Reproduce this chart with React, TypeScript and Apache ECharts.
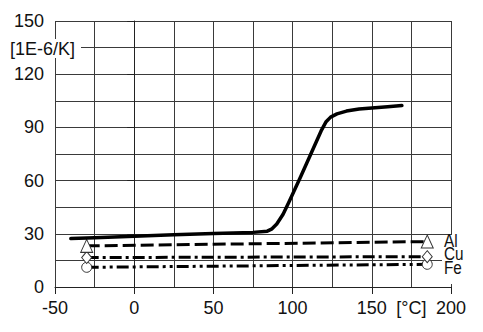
import React, { useEffect, useRef } from "react";
import * as echarts from "echarts";

// Main curve (solid): temperature [°C] vs. expansion coefficient [1E-6/K]
const mainX = [-40, -25, 0, 25, 50, 75, 84, 87, 90, 94, 98, 105, 112, 118, 121, 124, 128, 134, 142, 150, 160, 169];
const mainY = [27.3, 27.8, 28.6, 29.4, 30.2, 30.8, 31.5, 32.8, 35.5, 41, 48.5, 62, 76, 88, 93, 95.8, 97.6, 99.2, 100.4, 101, 101.6, 102.3];

// Reference metals (start and end of line)
const refX = [-30, 185];
const alY = [23.2, 25.6];
const cuY = [16.6, 17.1];
const feY = [11.1, 12.8];

const metalNames = ["Al", "Cu", "Fe"];
const yUnit = "[1E-6/K]";
const xUnit = "[°C]";

const FONT = "'Liberation Sans', Arial, Helvetica, sans-serif";

export default function App() {
  const ref = useRef<HTMLDivElement>(null);
  useEffect(() => {
    if (!ref.current) return;
    const chart = echarts.init(ref.current, null, { renderer: "svg" });
    const pairs = (xs: number[], ys: number[]) => xs.map((x, i) => [x, ys[i]]);
    const gridColor = "#3a3a3a";
    const option: any = {
      animation: false,
      backgroundColor: "#fff",
      grid: { left: 55, right: 32, top: 21, bottom: 45 },
      xAxis: [
        {
          type: "value",
          min: -50,
          max: 200,
          interval: 25,
          position: "bottom",
          axisLine: { show: true, lineStyle: { color: "#222", width: 1 } },
          axisTick: { show: false },
          axisLabel: {
            margin: 12,
            color: "#111",
            fontSize: 18,
            fontFamily: FONT,
            formatter: (v: number) => (v === 175 ? xUnit : v % 50 === 0 ? String(v) : ""),
          },
          splitLine: { show: true, lineStyle: { color: gridColor, width: 1 } },
        },
        {
          type: "value",
          min: -50,
          max: 200,
          interval: 50,
          position: "bottom",
          axisLine: { show: false },
          axisTick: { show: true, length: 7, lineStyle: { color: "#222" } },
          axisLabel: { show: false },
          splitLine: { show: false },
        },
      ],
      yAxis: [
        {
          type: "value",
          min: 0,
          max: 150,
          interval: 15,
          position: "left",
          axisLine: { show: true, lineStyle: { color: "#222", width: 1 } },
          axisTick: { show: false },
          axisLabel: {
            margin: 11,
            color: "#111",
            fontSize: 18,
            fontFamily: FONT,
            formatter: (v: number) => (v % 30 === 0 ? String(v) : ""),
          },
          splitLine: { show: true, lineStyle: { color: gridColor, width: 1 } },
        },
        {
          type: "value",
          min: 0,
          max: 150,
          interval: 30,
          position: "left",
          axisLine: { show: false },
          axisTick: { show: true, length: 7, lineStyle: { color: "#222" } },
          axisLabel: { show: false },
          splitLine: { show: false },
        },
      ],
      series: [
        {
          type: "line",
          data: pairs(mainX, mainY),
          symbol: "none",
          smooth: false,
          lineStyle: { color: "#000", width: 3.5, join: "round", cap: "round" },
          z: 5,
        },
        {
          type: "line",
          name: metalNames[0],
          data: pairs(refX, alY),
          symbol: "triangle",
          symbolSize: [12, 13],
          showAllSymbol: true,
          itemStyle: { color: "#fff", borderColor: "#333", borderWidth: 1 },
          lineStyle: { color: "#000", width: 3, type: [13, 5] },
          z: 4,
        },
        {
          type: "line",
          name: metalNames[1],
          data: pairs(refX, cuY),
          symbol: "diamond",
          symbolSize: [10, 12],
          showAllSymbol: true,
          itemStyle: { color: "#fff", borderColor: "#333", borderWidth: 1 },
          lineStyle: { color: "#000", width: 3, type: [12, 4, 3, 4] },
          z: 3,
        },
        {
          type: "line",
          name: metalNames[2],
          data: pairs(refX, feY),
          symbol: "circle",
          symbolSize: 10,
          showAllSymbol: true,
          itemStyle: { color: "#fff", borderColor: "#333", borderWidth: 1 },
          lineStyle: { color: "#000", width: 3, type: [12, 4, 3, 4, 3, 4] },
          z: 2,
        },
      ],
      graphic: [
        {
          type: "rect",
          z: 10,
          shape: { x: 442, y: 235, width: 34, height: 49 },
          style: { fill: "#fff" },
        },
        ...metalNames.map((n, i) => ({
          type: "text",
          z: 11,
          x: 444,
          y: 241 + i * 13.5,
          scaleX: 0.85,
          style: {
            text: n,
            fill: "#111",
            fontSize: 18,
            fontFamily: FONT,
            textAlign: "left",
            textVerticalAlign: "middle",
          },
        })),
        {
          type: "rect",
          z: 10,
          shape: { x: 9, y: 39, width: 72, height: 19 },
          style: { fill: "#fff" },
        },
        {
          type: "text",
          z: 11,
          x: 10,
          y: 48.5,
          style: {
            text: yUnit,
            fill: "#111",
            fontSize: 18,
            fontFamily: FONT,
            textAlign: "left",
            textVerticalAlign: "middle",
          },
        },
      ],
    };
    chart.setOption(option);
    return () => chart.dispose();
  }, []);
  return (
    <div
      ref={ref}
      style={{ position: "fixed", left: 0, top: 0, width: 483, height: 332, background: "#fff" }}
    />
  );
}
